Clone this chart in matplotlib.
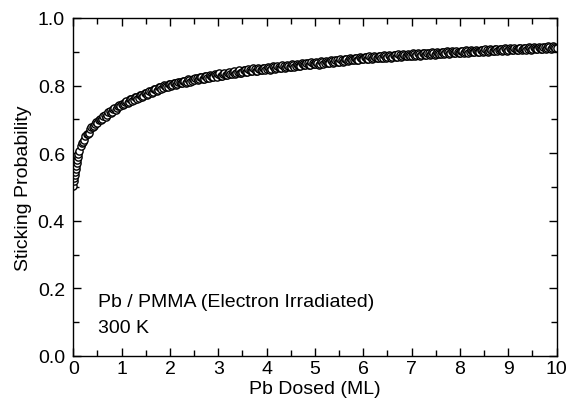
import numpy as np
import matplotlib
matplotlib.use("Agg")
import matplotlib.pyplot as plt
from matplotlib.ticker import MultipleLocator

plt.rcParams['font.family'] = ['Liberation Sans', 'DejaVu Sans']

# first tenth of a monolayer, read point by point
dose_early = [0.00, 0.01, 0.02, 0.03, 0.04, 0.05, 0.06, 0.07, 0.08, 0.09]
stick_early = [0.502, 0.518, 0.527, 0.536, 0.545, 0.553, 0.561, 0.572, 0.580, 0.590]

# readings every 0.05 ML from 0.10 to 10.00
dose_a = list(np.round(np.arange(0.10, 10.001, 0.05), 3))
stick_a = [
    0.598, 0.622, 0.633, 0.650, 0.657, 0.670, 0.676, 0.687,
    0.690, 0.701, 0.702, 0.713, 0.712, 0.724, 0.722, 0.733, 0.732, 0.741,
    0.745, 0.744, 0.753, 0.751, 0.760, 0.757, 0.766, 0.763, 0.772, 0.769,
    0.778, 0.776, 0.785, 0.781, 0.790, 0.787, 0.796, 0.792, 0.800, 0.797,
    0.804, 0.801, 0.808, 0.804, 0.811, 0.807, 0.814, 0.810, 0.817, 0.813,
    0.815, 0.822, 0.818, 0.825, 0.820, 0.827, 0.822, 0.829, 0.825, 0.831,
    0.833, 0.828, 0.835, 0.830, 0.837, 0.833, 0.839, 0.834, 0.841, 0.837,
    0.840, 0.845, 0.841, 0.847, 0.843, 0.849, 0.844, 0.850, 0.846, 0.851,
    0.848, 0.853, 0.849, 0.855, 0.851, 0.856, 0.852, 0.858, 0.854, 0.859,
    0.856, 0.861, 0.857, 0.862, 0.859, 0.864, 0.860, 0.866, 0.862, 0.867,
    0.863, 0.868, 0.865, 0.870, 0.866, 0.871, 0.867, 0.873, 0.869, 0.874,
    0.871, 0.876, 0.872, 0.877, 0.874, 0.879, 0.875, 0.880, 0.876, 0.881,
    0.878, 0.883, 0.879, 0.884, 0.880, 0.885, 0.881, 0.886, 0.882, 0.887,
    0.883, 0.888, 0.884, 0.889, 0.885, 0.890, 0.886, 0.891, 0.887, 0.891,
    0.888, 0.893, 0.889, 0.894, 0.890, 0.895, 0.891, 0.895, 0.892, 0.896,
    0.893, 0.897, 0.894, 0.898, 0.895, 0.899, 0.896, 0.899, 0.896, 0.900,
    0.897, 0.901, 0.898, 0.902, 0.899, 0.903, 0.900, 0.903, 0.900, 0.904,
    0.901, 0.905, 0.902, 0.906, 0.903, 0.907, 0.904, 0.907, 0.904, 0.908,
    0.905, 0.908, 0.905, 0.909, 0.906, 0.910, 0.907, 0.910, 0.907, 0.911,
    0.908, 0.911, 0.909, 0.912, 0.909, 0.913, 0.910, 0.913, 0.911, 0.914,
    0.912,
]

# interleaved readings, 0.125 to 9.975 ML
dose_b = list(np.round(np.arange(0.125, 9.99, 0.05), 3))
stick_b = [
    0.606, 0.631, 0.640, 0.657, 0.660, 0.676, 0.679, 0.692,
    0.699, 0.697, 0.710, 0.708, 0.721, 0.718, 0.730, 0.728, 0.740, 0.738,
    0.741, 0.752, 0.748, 0.759, 0.754, 0.766, 0.760, 0.772, 0.767, 0.778,
    0.773, 0.784, 0.779, 0.790, 0.784, 0.796, 0.790, 0.801, 0.795, 0.805,
    0.798, 0.808, 0.801, 0.811, 0.806, 0.813, 0.808, 0.818, 0.811, 0.820,
    0.822, 0.815, 0.824, 0.818, 0.829, 0.821, 0.831, 0.824, 0.833, 0.826,
    0.836, 0.829, 0.838, 0.831, 0.840, 0.833, 0.842, 0.836, 0.845, 0.838,
    0.847, 0.839, 0.848, 0.842, 0.851, 0.844, 0.852, 0.845, 0.853, 0.847,
    0.855, 0.847, 0.857, 0.849, 0.859, 0.852, 0.860, 0.853, 0.862, 0.855,
    0.863, 0.855, 0.864, 0.858, 0.866, 0.860, 0.868, 0.861, 0.869, 0.863,
    0.870, 0.862, 0.872, 0.865, 0.873, 0.866, 0.875, 0.868, 0.876, 0.870,
    0.877, 0.870, 0.879, 0.872, 0.880, 0.874, 0.882, 0.875, 0.883, 0.877,
    0.885, 0.877, 0.886, 0.879, 0.887, 0.880, 0.888, 0.881, 0.889, 0.882,
    0.890, 0.882, 0.891, 0.883, 0.892, 0.884, 0.893, 0.886, 0.893, 0.887,
    0.895, 0.887, 0.896, 0.888, 0.897, 0.889, 0.897, 0.891, 0.898, 0.891,
    0.899, 0.892, 0.900, 0.893, 0.901, 0.894, 0.901, 0.895, 0.902, 0.896,
    0.903, 0.896, 0.904, 0.897, 0.905, 0.898, 0.905, 0.899, 0.906, 0.900,
    0.907, 0.900, 0.908, 0.901, 0.909, 0.902, 0.909, 0.903, 0.910, 0.903,
    0.910, 0.904, 0.911, 0.904, 0.912, 0.905, 0.912, 0.906, 0.913, 0.906,
    0.914, 0.907, 0.914, 0.908, 0.915, 0.908, 0.916, 0.909, 0.916, 0.910,
]

dose = np.array(dose_early + dose_a + dose_b)
stick = np.array(stick_early + stick_a + stick_b)
order = np.argsort(dose, kind='stable')

fig = plt.figure(figsize=(5.68, 4.02), dpi=100)
ax = fig.add_axes([0.129, 0.112, 0.851, 0.841])

ax.plot(dose[order], stick[order], 'o', mfc='white', mec='black', ms=5.2, mew=1.0)

ax.set_xlim(0, 10)
ax.set_ylim(0, 1.0)
ax.xaxis.set_major_locator(MultipleLocator(1))
ax.xaxis.set_minor_locator(MultipleLocator(0.5))
ax.yaxis.set_major_locator(MultipleLocator(0.2))
ax.yaxis.set_minor_locator(MultipleLocator(0.1))
ax.yaxis.set_major_formatter(plt.FormatStrFormatter('%.1f'))
ax.tick_params(which='both', direction='in', top=True, right=True, labelsize=14)
ax.tick_params(which='major', length=6, width=1)
ax.tick_params(which='minor', length=4, width=1)
ax.tick_params(axis='x', pad=3)
ax.tick_params(axis='y', pad=6)
for s in ax.spines.values():
    s.set_linewidth(1)

ax.set_xlabel('Pb Dosed (ML)', fontsize=14, labelpad=2)
ax.set_ylabel('Sticking Probability', fontsize=14, labelpad=4)

ax.text(0.52, 0.149, 'Pb / PMMA (Electron Irradiated)', fontsize=14, va='baseline')
ax.text(0.52, 0.071, '300 K', fontsize=14, va='baseline')

fig.savefig('out.png', dpi=100)
